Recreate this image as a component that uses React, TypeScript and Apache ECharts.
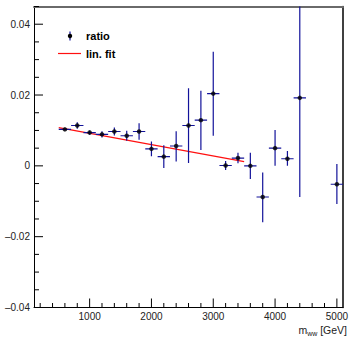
import React, { useEffect, useRef } from "react";
import * as echarts from "echarts";

// ---- data ----
const massBins = [600, 800, 1000, 1200, 1400, 1600, 1800, 2000, 2200, 2400, 2600, 2800, 3000, 3200, 3400, 3600, 3800, 4000, 4200, 4400, 5000];
const ratioValues = [0.0103, 0.0114, 0.0094, 0.0089, 0.0097, 0.0085, 0.0097, 0.0048, 0.0026, 0.0056, 0.0114, 0.0129, 0.0204, 0.0001, 0.0022, 0.0, -0.0088, 0.005, 0.002, 0.0192, -0.0052];
const ratioErrUp = [0.0004, 0.0009, 0.0006, 0.0009, 0.0011, 0.0014, 0.0023, 0.0021, 0.0032, 0.0042, 0.0105, 0.0083, 0.0118, 0.0013, 0.0015, 0.0037, 0.0069, 0.0051, 0.0022, 0.028, 0.0057];
const ratioErrDown = [0.0004, 0.0009, 0.0006, 0.0009, 0.0011, 0.0014, 0.0023, 0.0021, 0.0032, 0.0044, 0.0106, 0.0084, 0.0119, 0.0013, 0.0015, 0.0037, 0.0071, 0.005, 0.002, 0.028, 0.0056];
const binHalfWidth = [100, 100, 100, 100, 100, 100, 100, 100, 100, 100, 100, 100, 100, 100, 100, 100, 100, 100, 100, 100, 100];
const fitX = [500, 3500];
const fitY = [0.0108, 0.0012];
const xMajorTicks = [1000, 2000, 3000, 4000, 5000];
const xMinorTicks = [200, 400, 600, 800, 1200, 1400, 1600, 1800, 2200, 2400, 2600, 2800, 3200, 3400, 3600, 3800, 4200, 4400, 4600, 4800];
const yMajorTicks = [-0.04, -0.02, 0, 0.02, 0.04];
const yMinorTicks = [-0.035, -0.03, -0.025, -0.015, -0.01, -0.005, 0.005, 0.01, 0.015, 0.025, 0.03, 0.035, 0.045];
const legendLabels = ["ratio", "lin. fit"];
const X_MIN = 100;
const X_MAX = 5100;
const Y_MIN = -0.04;
const Y_MAX = 0.045;

const FONT = "'Liberation Sans', Arial, Helvetica, sans-serif";
const BAR_COLOR = "#12129a";

export default function App() {
  const ref = useRef<HTMLDivElement>(null);

  useEffect(() => {
    document.body.style.margin = "0";
    if (!ref.current) return;
    const chart = echarts.init(ref.current, undefined, { renderer: "svg" });

    const tickData: number[][] = [];
    xMajorTicks.forEach((v) => tickData.push([v, Y_MIN, 0, 1]));
    xMinorTicks.forEach((v) => tickData.push([v, Y_MIN, 0, 0]));
    yMajorTicks.forEach((v) => tickData.push([X_MIN, v, 1, 1]));
    yMinorTicks.forEach((v) => tickData.push([X_MIN, v, 1, 0]));

    const yLabel = (v: number) => {
      const k = Math.round(v * 1000);
      if (k % 20 !== 0) return "";
      if (k === 0) return "0";
      return (k < 0 ? "\u2013" : "") + (Math.abs(k) / 1000).toFixed(2);
    };

    chart.setOption({
      animation: false,
      grid: { left: 34, right: 4.5, top: 6.5, bottom: 29.5, containLabel: false },
      xAxis: [
        {
          type: "value",
          min: X_MIN,
          max: X_MAX,
          interval: 100,
          position: "bottom",
          axisLine: { show: true, onZero: false, lineStyle: { color: "#000", width: 1 } },
          axisTick: { show: false },
          splitLine: { show: false },
          axisLabel: {
            formatter: (v: number) => (Math.round(v) % 1000 === 0 ? String(Math.round(v)) : ""),
            fontFamily: FONT,
            fontSize: 10,
            color: "#222",
            margin: 4,
          },
        },
        {
          type: "value",
          min: X_MIN,
          max: X_MAX,
          position: "top",
          axisLine: { show: true, onZero: false, lineStyle: { color: "#6a6a6a", width: 2 } },
          axisTick: { show: false },
          axisLabel: { show: false },
          splitLine: { show: false },
        },
      ],
      yAxis: [
        {
          type: "value",
          min: Y_MIN,
          max: Y_MAX,
          interval: 0.005,
          position: "left",
          axisLine: { show: true, onZero: false, lineStyle: { color: "#000", width: 1 } },
          axisTick: { show: false },
          splitLine: { show: false },
          axisLabel: {
            formatter: yLabel,
            fontFamily: FONT,
            fontSize: 10,
            color: "#222",
            margin: 4,
          },
        },
        {
          type: "value",
          min: Y_MIN,
          max: Y_MAX,
          position: "right",
          axisLine: { show: true, onZero: false, lineStyle: { color: "#000", width: 1.5 } },
          axisTick: { show: false },
          axisLabel: { show: false },
          splitLine: { show: false },
        },
      ],
      series: [
        {
          type: "custom",
          name: "ticks",
          xAxisIndex: 0,
          yAxisIndex: 0,
          clip: false,
          silent: true,
          encode: { x: 0, y: 1 },
          data: tickData,
          renderItem: (params: any, api: any) => {
            const p = api.coord([api.value(0), api.value(1)]);
            const isY = api.value(2) === 1;
            const major = api.value(3) === 1;
            const len = isY ? (major ? 9 : 5) : major ? 9 : 4.5;
            const shape = isY
              ? { x1: p[0], y1: p[1], x2: p[0] + len, y2: p[1] }
              : { x1: p[0], y1: p[1], x2: p[0], y2: p[1] - len };
            return { type: "line", shape, style: { stroke: "#000", lineWidth: 1 } };
          },
          z: 5,
        },
        {
          type: "line",
          name: legendLabels[1],
          data: fitX.map((x, i) => [x, fitY[i]]),
          symbol: "none",
          lineStyle: { color: "#ff1010", width: 1.2 },
          z: 3,
        },
        {
          type: "custom",
          name: "errors",
          clip: true,
          encode: { x: 0, y: 1 },
          data: massBins.map((x, i) => [x, ratioValues[i], ratioErrUp[i], ratioErrDown[i], binHalfWidth[i]]),
          renderItem: (params: any, api: any) => {
            const x = api.value(0);
            const y = api.value(1);
            const t = api.coord([x, y + api.value(2)]);
            const b = api.coord([x, y - api.value(3)]);
            const l = api.coord([x - api.value(4), y]);
            const r = api.coord([x + api.value(4), y]);
            return {
              type: "group",
              children: [
                { type: "line", shape: { x1: t[0], y1: t[1], x2: b[0], y2: b[1] }, style: { stroke: BAR_COLOR, lineWidth: 1.2 } },
                { type: "line", shape: { x1: l[0], y1: l[1], x2: r[0], y2: r[1] }, style: { stroke: BAR_COLOR, lineWidth: 1.2 } },
              ],
            };
          },
          z: 4,
        },
        {
          type: "scatter",
          name: legendLabels[0],
          data: massBins.map((x, i) => [x, ratioValues[i]]),
          symbol: "circle",
          symbolSize: 4.5,
          itemStyle: { color: "#000" },
          z: 6,
        },
      ],
      graphic: [
        { type: "line", shape: { x1: 70, y1: 31.5, x2: 70, y2: 40.5 }, style: { stroke: BAR_COLOR, lineWidth: 1.2 } },
        { type: "circle", shape: { cx: 70, cy: 36, r: 2.2 }, style: { fill: "#000" } },
        {
          type: "text",
          x: 86,
          y: 36,
          style: { text: legendLabels[0], font: `bold 11px ${FONT}`, fill: "#000", verticalAlign: "middle", align: "left" },
        },
        { type: "line", shape: { x1: 58, y1: 53.5, x2: 81, y2: 53.5 }, style: { stroke: "#ff1010", lineWidth: 1.2 } },
        {
          type: "text",
          x: 86,
          y: 53.5,
          style: { text: legendLabels[1], font: `bold 11px ${FONT}`, fill: "#000", verticalAlign: "middle", align: "left" },
        },
        {
          type: "text",
          x: 347,
          y: 330,
          style: {
            text: "{m|m}{s|ww}{g| [GeV]}",
            align: "right",
            verticalAlign: "middle",
            rich: {
              m: { fontFamily: FONT, fontSize: 10.5, fill: "#222", lineHeight: 14, verticalAlign: "middle" },
              s: { fontFamily: FONT, fontSize: 7, fill: "#222", lineHeight: 14, verticalAlign: "bottom" },
              g: { fontFamily: FONT, fontSize: 10.5, fill: "#222", lineHeight: 14, verticalAlign: "middle" },
            },
          },
        },
      ],
    });

    return () => chart.dispose();
  }, []);

  return <div ref={ref} style={{ width: 351, height: 337 }} />;
}
